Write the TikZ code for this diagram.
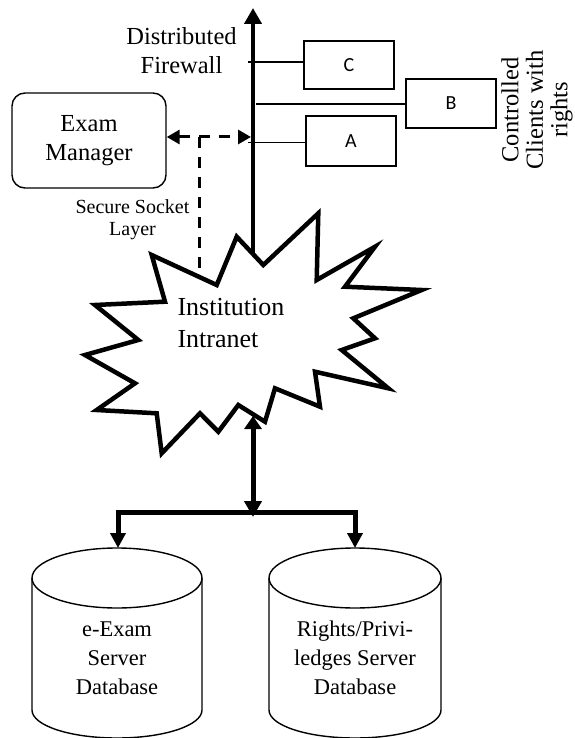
\documentclass[tikz,border=0pt]{standalone}
\usepackage{fontspec}
\setmainfont{Liberation Serif}
\newfontfamily\sansf{Carlito}
\usetikzlibrary{arrows.meta}
\tikzset{
  lbl/.style={inner sep=0pt, align=center},
  clientbox/.style={draw, line width=1.3pt, minimum width=90pt, minimum height=49pt, inner sep=0pt,
    font=\sansf\fontsize{20}{24}\selectfont},
  bus/.style={line width=4.5pt},
  link/.style={line width=1.3pt},
  ssl/.style={line width=3pt, dash pattern=on 11pt off 9pt},
  cyl/.style={line width=1.4pt},
  burst/.style={line width=4.5pt, fill=white, line join=miter, miter limit=20},
}
\begin{document}
\begin{tikzpicture}[x=1pt, y=-1pt]
\useasboundingbox (0,0) rectangle (574,738);

% coordinates
\coordinate (bartop) at (253,8);
\coordinate (barbot) at (253,254);
\coordinate (tC) at (248,62);
\coordinate (tB) at (256,104);
\coordinate (tA) at (248,142.7);
\coordinate (sslbar) at (251,137);
\coordinate (sslj) at (199,137);
\coordinate (sslend) at (199,277);
\coordinate (burstbot) at (253,416);
\coordinate (junction) at (253,517);
\coordinate (dbLtop) at (118,548);
\coordinate (dbRtop) at (355,548);
\coordinate (busL) at (118,512);
\coordinate (busR) at (355,512);

% firewall bus
\draw[bus, -{Triangle[length=16pt, width=17pt]}] (barbot) -- (bartop);
\node[lbl, font=\fontsize{24.5}{28.4}\selectfont] (fw) at (181.5,50.5) {Distributed\\Firewall};

% clients
\node[clientbox, minimum height=48pt] (C) at (349,65) {C};
\node[clientbox] (B) at (451,103.5) {B};
\node[clientbox, minimum height=50pt] (A) at (351,141) {A};
\draw[link] (tC) -- (tC -| C.west);
\draw[link] (tB) -- (tB -| B.west);
\draw[link] (tA) -- (tA -| A.west);
\node[lbl, rotate=90, font=\fontsize{24.5}{24.5}\selectfont] (cl) at (537,110) {Controlled\\Clients with\\rights};

% exam manager
\node[draw, line width=1.4pt, rounded corners=13pt, minimum width=154pt, minimum height=95pt,
  lbl, font=\fontsize{24.5}{29}\selectfont] (em) at (89,140.5) {Exam\\Manager};
\draw[ssl, {Triangle[length=13pt, width=14pt]}-{Triangle[length=13pt, width=14pt]}] (em.east |- sslbar) -- (sslbar);
\draw[ssl] (sslj) -- (sslend);
\node[lbl, font=\fontsize{20}{22.3}\selectfont] (ssltxt) at (132.5,219.5) {Secure Socket\\Layer};

% intranet burst
\draw[burst] (151.7,255) -- (216.7,285) -- (236.7,236.7) -- (263.3,265) -- (318.3,213.3)
  -- (316.7,280) -- (375,246.7) -- (345,286.7) -- (421.7,290) -- (353.3,318.3)
  -- (375,338.3) -- (341.7,350) -- (388.3,388.3) -- (315,371.7) -- (320,406.7)
  -- (275,388.3) -- (265,421.7) -- (238.3,405) -- (218.3,431.7) -- (200,413.3)
  -- (161.7,453.3) -- (156.7,413.3) -- (96.7,410) -- (135,383.3) -- (85,355)
  -- (138.3,340) -- (95,305) -- (165,301.7) -- cycle;
\node[lbl, align=left, anchor=west, font=\fontsize{26}{32}\selectfont] (intra) at (177.3,323) {Institution\\Intranet};

% server links
\draw[bus, line width=5pt, {Triangle[length=13pt, width=17pt]}-{Triangle[length=16pt, width=17pt]}] (burstbot) -- (junction);
\draw[bus, line width=5pt, {Triangle[length=15pt, width=15pt]}-{Triangle[length=15pt, width=15pt]}]
  (dbLtop) -- (busL) -- (busR) -- (dbRtop);

% databases
\draw[cyl] (32,578) -- (32,710) .. controls (32,725.5) and (70,738) .. (117,738)
  .. controls (164,738) and (202,725.5) .. (202,710) -- (202,578);
\draw[cyl] (117,578) ellipse [x radius=85, y radius=30];
\node[lbl, font=\fontsize{22.5}{29}\selectfont] (db1) at (117,658) {e-Exam\\Server\\Database};

\draw[cyl] (269,578) -- (269,710) .. controls (269,725.5) and (307.5,738) .. (355,738)
  .. controls (402.5,738) and (441,725.5) .. (441,710) -- (441,578);
\draw[cyl] (355,578) ellipse [x radius=86, y radius=30];
\node[lbl, font=\fontsize{22.5}{29}\selectfont] (db2) at (355,657.5) {Rights/Privi-\\ledges Server\\Database};
\end{tikzpicture}
\end{document}
